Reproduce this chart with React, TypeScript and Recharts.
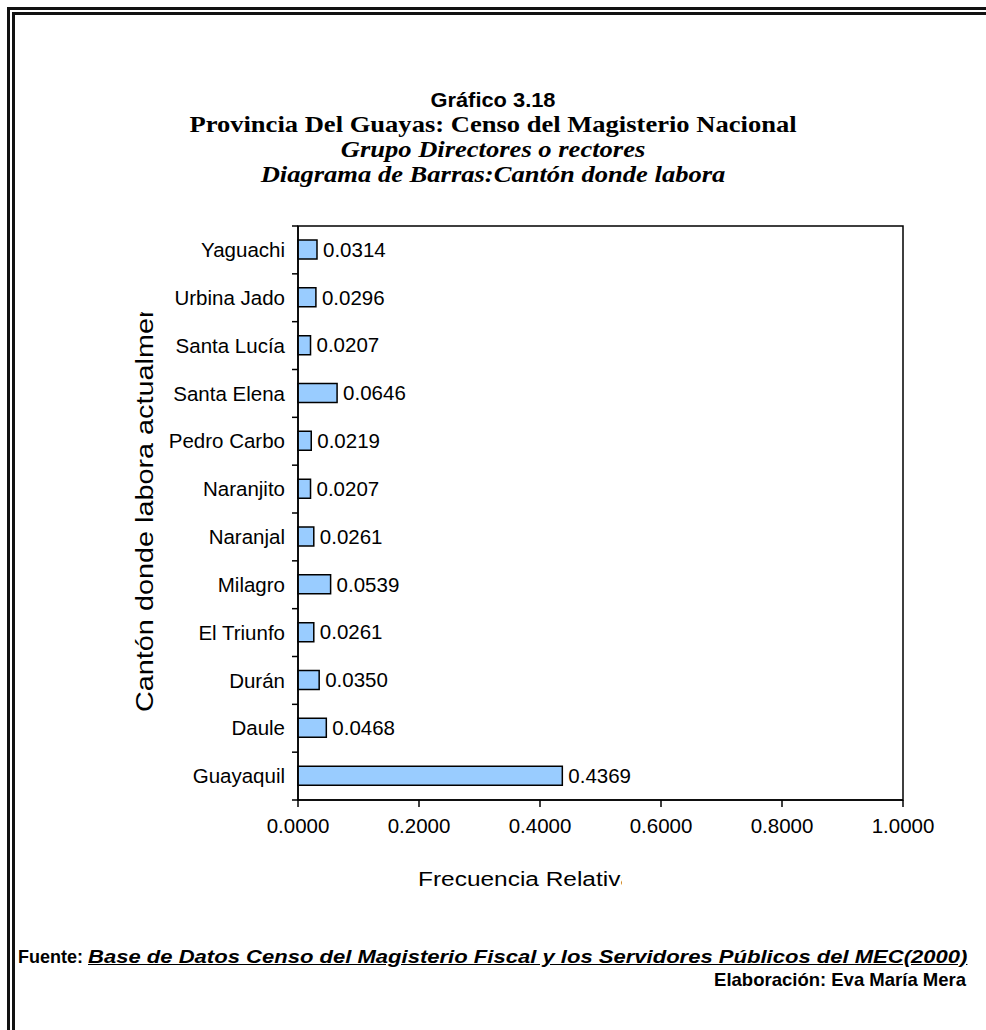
import React from "react";
import { BarChart, Bar, XAxis, YAxis, LabelList, Label, ReferenceArea } from "recharts";

const cantones = [
  "Yaguachi",
  "Urbina Jado",
  "Santa Lucía",
  "Santa Elena",
  "Pedro Carbo",
  "Naranjito",
  "Naranjal",
  "Milagro",
  "El Triunfo",
  "Durán",
  "Daule",
  "Guayaquil",
];
const frecuencias = [0.0314, 0.0296, 0.0207, 0.0646, 0.0219, 0.0207, 0.0261, 0.0539, 0.0261, 0.035, 0.0468, 0.4369];
const xTicks = [0, 0.2, 0.4, 0.6, 0.8, 1.0];

const data = cantones.map((canton, i) => ({ canton, frecuencia: frecuencias[i] }));

const SANS = '"Liberation Sans", Arial, sans-serif';
const SERIF = '"Liberation Serif", "Times New Roman", serif';

// chart geometry
const CHART_TOP = 200;
const CHART_W = 986;
const CHART_H = 720;
const MARGIN_TOP = 26;
const MARGIN_RIGHT = 83;
const YAXIS_W = 298;
const XAXIS_H = 120;
const PLOT_H = CHART_H - MARGIN_TOP - XAXIS_H;
const BAND = PLOT_H / cantones.length;

function CategoryTick(props: any) {
  const { y, payload, index } = props;
  const top = y - BAND / 2;
  const bottom = y + BAND / 2;
  return (
    <g>
      <line x1={YAXIS_W - 6} x2={YAXIS_W} y1={top} y2={top} stroke="#000" strokeWidth={1.5} />
      {index === cantones.length - 1 && (
        <line x1={YAXIS_W - 6} x2={YAXIS_W} y1={bottom} y2={bottom} stroke="#000" strokeWidth={1.5} />
      )}
      <text x={YAXIS_W - 13} y={y} dy="0.35em" textAnchor="end" fontFamily={SANS} fontSize={20.5} fill="#000">
        {payload.value}
      </text>
    </g>
  );
}

const titleLine = (center: number, style: React.CSSProperties, text: string) => (
  <div
    style={{
      position: "absolute",
      left: 0,
      top: center - 12,
      width: CHART_W,
      height: 24,
      lineHeight: "24px",
      textAlign: "center",
      whiteSpace: "nowrap",
      color: "#000",
      ...style,
    }}
  >
    {text}
  </div>
);

export default function App() {
  return (
    <div
      style={{
        position: "absolute",
        left: 0,
        top: 0,
        width: 986,
        height: 1030,
        overflow: "hidden",
        background: "#fff",
      }}
    >
      {/* double frame */}
      <div style={{ position: "absolute", left: 7, top: 7, width: 1200, height: 1200, borderLeft: "3px solid #111", borderTop: "3px solid #111" }} />
      <div style={{ position: "absolute", left: 12, top: 12, width: 1200, height: 1200, borderLeft: "3px solid #111", borderTop: "3px solid #111" }} />

      {titleLine(100, { fontFamily: SANS, fontWeight: "bold", fontSize: 21, transform: "scaleX(1.04)" }, "Gráfico 3.18")}
      {titleLine(125, { fontFamily: SERIF, fontWeight: "bold", fontSize: 22.5, transform: "scaleX(1.18)" }, "Provincia Del Guayas: Censo del Magisterio Nacional")}
      {titleLine(150, { fontFamily: SERIF, fontWeight: "bold", fontStyle: "italic", fontSize: 22.5, transform: "scaleX(1.18)" }, "Grupo Directores o rectores")}
      {titleLine(175, { fontFamily: SERIF, fontWeight: "bold", fontStyle: "italic", fontSize: 22.5, transform: "scaleX(1.18)" }, "Diagrama de Barras:Cantón donde labora")}

      <div style={{ position: "absolute", left: 0, top: CHART_TOP }}>
        <BarChart
          width={CHART_W}
          height={CHART_H}
          data={data}
          layout="vertical"
          margin={{ top: MARGIN_TOP, right: MARGIN_RIGHT, bottom: 0, left: 0 }}
        >
          <XAxis
            type="number"
            domain={[0, 1]}
            ticks={xTicks}
            interval={0}
            height={XAXIS_H}
            tickSize={7}
            tickMargin={11}
            tickFormatter={(v: number) => v.toFixed(4)}
            axisLine={{ stroke: "#000", strokeWidth: 1.5 }}
            tickLine={{ stroke: "#000", strokeWidth: 1.5 }}
            tick={{ fill: "#000", fontSize: 20.5, fontFamily: SANS }}
          >
            <Label
              content={() => (
                <g>
                  <defs>
                    <clipPath id="xTitleClip">
                      <rect x={380} y={650} width={242} height={60} />
                    </clipPath>
                  </defs>
                  <text
                    x={418}
                    y={879 - CHART_TOP}
                    dy="0.35em"
                    textAnchor="start"
                    fontFamily={SANS}
                    fontSize={20}
                    textLength={216}
                    lengthAdjust="spacingAndGlyphs"
                    fill="#000"
                    clipPath="url(#xTitleClip)"
                  >
                    Frecuencia Relativa
                  </text>
                </g>
              )}
            />
          </XAxis>
          <YAxis
            type="category"
            dataKey="canton"
            width={YAXIS_W}
            interval={0}
            tickLine={false}
            axisLine={{ stroke: "#000", strokeWidth: 1.5 }}
            tick={<CategoryTick />}
          >
            <Label
              content={() => (
                <g>
                  <defs>
                    <clipPath id="yTitleClip">
                      <rect x={120} y={312 - CHART_TOP} width={50} height={420} />
                    </clipPath>
                  </defs>
                  <g clipPath="url(#yTitleClip)">
                    <text
                      x={145}
                      y={712 - CHART_TOP}
                      dy="0.35em"
                      textAnchor="start"
                      fontFamily={SANS}
                      fontSize={23}
                      textLength={434}
                      lengthAdjust="spacingAndGlyphs"
                      fill="#000"
                      transform={`rotate(-90 145 ${712 - CHART_TOP})`}
                    >
                      Cantón donde labora actualmente
                    </text>
                  </g>
                </g>
              )}
            />
          </YAxis>
          <ReferenceArea x1={0} x2={1} fill="none" stroke="#000" strokeWidth={1.5} fillOpacity={0} />
          <Bar
            dataKey="frecuencia"
            fill="#99ccff"
            stroke="#000"
            strokeWidth={1.5}
            barSize={19}
            isAnimationActive={false}
          >
            <LabelList
              dataKey="frecuencia"
              position="right"
              offset={6}
              formatter={(v: any) => Number(v).toFixed(4)}
              fill="#000"
              fontSize={20.5}
              fontFamily={SANS}
            />
          </Bar>
        </BarChart>
      </div>

      <div
        style={{
          position: "absolute",
          left: 18,
          top: 957 - 12,
          height: 24,
          lineHeight: "24px",
          whiteSpace: "nowrap",
          fontFamily: SANS,
          fontWeight: "bold",
          fontSize: 18,
          color: "#000",
        }}
      >
        Fuente:{" "}
        <span
          style={{
            display: "inline-block",
            fontStyle: "italic",
            textDecoration: "underline",
            fontSize: 19,
            transform: "scaleX(1.16)",
            transformOrigin: "left center",
          }}
        >
          Base de Datos Censo del Magisterio Fiscal y los Servidores Públicos del MEC(2000)
        </span>
      </div>
      <div
        style={{
          position: "absolute",
          right: 986 - 966,
          top: 980 - 12,
          height: 24,
          lineHeight: "24px",
          whiteSpace: "nowrap",
          fontFamily: SANS,
          fontWeight: "bold",
          fontSize: 18.5,
          color: "#000",
        }}
      >
        Elaboración: Eva María Mera
      </div>
    </div>
  );
}
